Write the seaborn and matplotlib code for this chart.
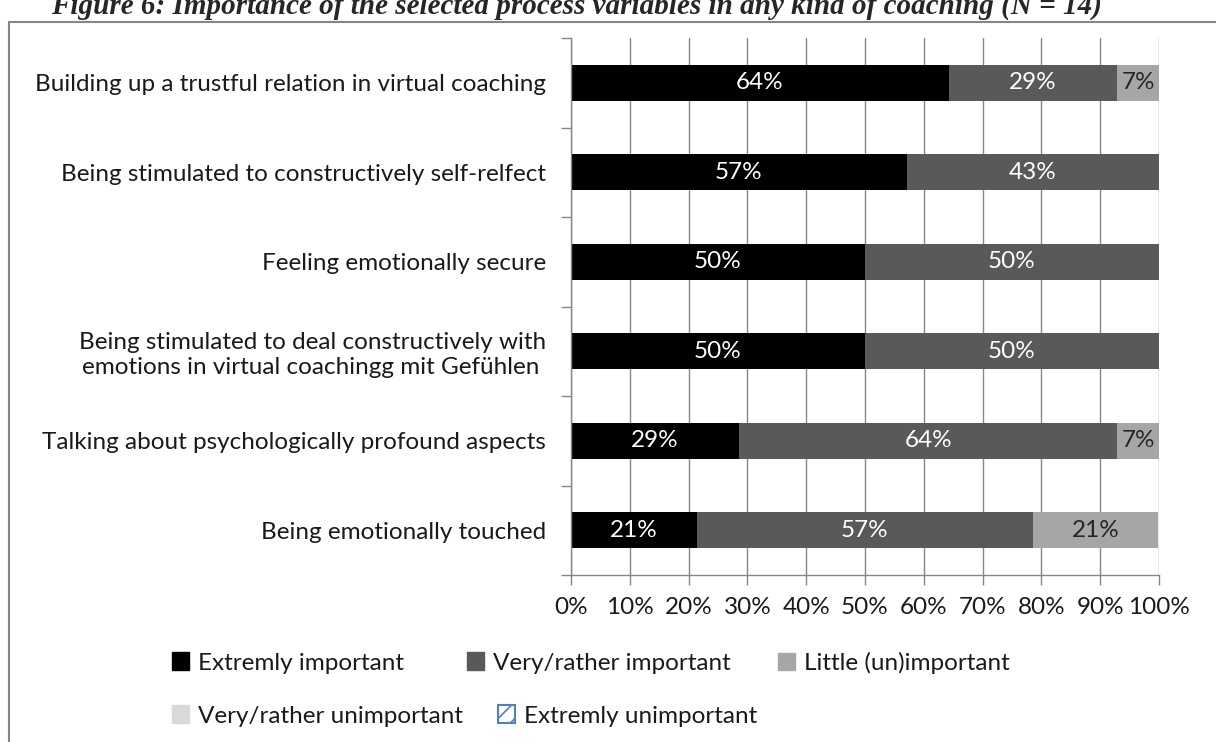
import matplotlib
matplotlib.use("Agg")
import matplotlib.pyplot as plt
from matplotlib.patches import Patch
from matplotlib.lines import Line2D
import seaborn as sns
import pandas as pd

# data (share of respondents, N = 14)
items = [
    "Building up a trustful relation in virtual coaching",
    "Being stimulated to constructively self-relfect",
    "Feeling emotionally secure",
    "Being stimulated to deal constructively with\nemotions in virtual coachingg mit Gefühlen ",
    "Talking about psychologically profound aspects",
    "Being emotionally touched",
]
categories = ["Extremly important", "Very/rather important", "Little (un)important",
              "Very/rather unimportant", "Extremly unimportant"]
extremly_important = [64.3, 57.1, 50.0, 50.0, 28.6, 21.4]
very_important = [28.6, 42.9, 50.0, 50.0, 64.3, 57.1]
little_important = [7.1, 0.0, 0.0, 0.0, 7.1, 21.4]
very_unimportant = [0.0, 0.0, 0.0, 0.0, 0.0, 0.0]
extremly_unimportant = [0.0, 0.0, 0.0, 0.0, 0.0, 0.0]
x_ticks = [0, 10, 20, 30, 40, 50, 60, 70, 80, 90, 100]

colors = ["#000000", "#595959", "#a6a6a6", "#d9d9d9", "#ffffff"]
label_colors = ["white", "white", "#262626", "#262626", "#262626"]
grid_col = "#868686"
fs = 17.5

series = [extremly_important, very_important, little_important,
          very_unimportant, extremly_unimportant]

df = pd.DataFrame({"item": items})
running = [0.0] * len(items)
starts = []
for i, s in enumerate(series):
    starts.append(list(running))
    running = [a + b for a, b in zip(running, s)]
    df[f"cum{i}"] = running

sns.set_style("white")
plt.rcParams["font.family"] = ["Lato", "DejaVu Sans"]
plt.rcParams["hatch.linewidth"] = 1.2

fig = plt.figure(figsize=(12.16, 7.42), dpi=100)
ax = fig.add_axes([571 / 1216, 1 - 575 / 742, 588 / 1216, 537 / 742])
ax.set_axisbelow(True)

# stacked bars: draw cumulative totals back to front
for i in reversed(range(3)):
    sns.barplot(data=df, x=f"cum{i}", y="item", color=colors[i], width=0.4,
                saturation=1, errorbar=None, linewidth=0, orient="h", ax=ax)

for i, s in enumerate(series):
    for r, v in enumerate(s):
        if v > 0:
            ax.text(starts[i][r] + v / 2, r, f"{round(v)}%", ha="center", va="center",
                    color=label_colors[i], fontsize=fs)

ax.set_xlim(0, 100)
ax.set_ylim(5.5, -0.5)
ax.set_xticks(x_ticks)
ax.set_xticklabels([f"{t}%" for t in x_ticks])
ax.set_xlabel("")
ax.set_ylabel("")
ax.xaxis.grid(True, color=grid_col, lw=1)
ax.yaxis.grid(False)
ax.set_yticks([r - 0.5 for r in range(len(items) + 1)], minor=True)
ax.tick_params(axis="y", which="major", length=0, pad=18, labelsize=fs, labelcolor="#1a1a1a")
ax.tick_params(axis="y", which="minor", length=7, width=1, color=grid_col, direction="out", left=True)
ax.tick_params(axis="x", which="major", length=7, width=1, color=grid_col, direction="out",
               bottom=True, pad=9, labelsize=fs, labelcolor="#1a1a1a")
for side in ["top", "right"]:
    ax.spines[side].set_visible(False)
for side in ["left", "bottom"]:
    ax.spines[side].set_color(grid_col)
    ax.spines[side].set_linewidth(1)

# legend entries placed like the original two-row legend
handles = [Patch(facecolor=c, edgecolor=c) for c in colors[:4]]
handles.append(Patch(facecolor="white", edgecolor="#4f81bd", hatch="//", lw=1.5))
leg_pos = [(172, 663), (467, 663), (778, 663), (172, 716), (498, 716)]
for h, lab, (px, py) in zip(handles, categories, leg_pos):
    fig.legend([h], [lab], frameon=False, fontsize=fs, handlelength=0.7, handleheight=0.7,
               handletextpad=0.35, borderpad=0, borderaxespad=0, loc="center left",
               labelcolor="#1a1a1a", bbox_to_anchor=(px / 1216, 1 - py / 742))

# chart frame and cut-off caption above it
fig.add_artist(Line2D([8.5 / 1216, 8.5 / 1216], [0, 1 - 22 / 742], color=grid_col, lw=1.5))
fig.add_artist(Line2D([8.5 / 1216, 1], [1 - 22 / 742, 1 - 22 / 742], color=grid_col, lw=1.5))
fig.text(51 / 1216, 1 - 14 / 742,
         "Figure 6: Importance of the selected process variables in any kind of coaching (N = 14)",
         family="Liberation Serif", weight="bold", style="italic", fontsize=21, va="baseline")

fig.savefig("out.png", dpi=100)
